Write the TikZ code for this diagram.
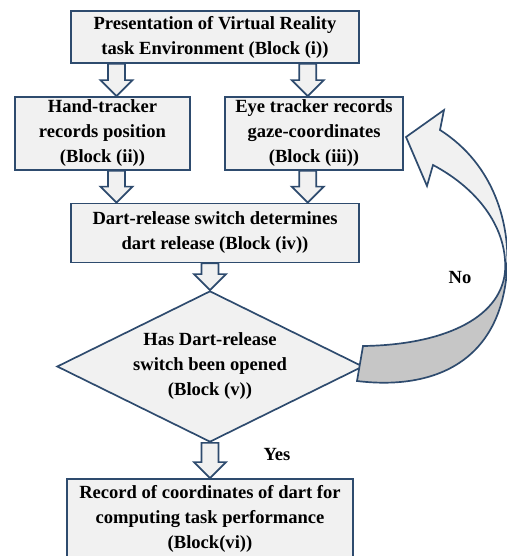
\documentclass[tikz,border=0pt]{standalone}
\usepackage{fontspec}
\setmainfont{Liberation Serif}
\usetikzlibrary{shapes,calc,positioning}
\definecolor{framecol}{HTML}{2E4B6E}
\definecolor{facecol}{HTML}{F1F1F1}
\definecolor{backcol}{HTML}{C6C6C6}

\begin{document}
\begin{tikzpicture}[
  x=0.025cm, y=-0.025cm,
  every node/.style = {font=\fontsize{13.2}{17.8}\selectfont\bfseries, align=center},
  box options/.style = {draw=framecol, fill=facecol, line width=1.2pt, inner sep=0pt},
  decision options/.style = {box options, diamond, aspect=2},
  loop front/.style = {draw=framecol, fill=facecol, line width=1.2pt, line join=miter},
  loop back/.style = {draw=framecol, fill=backcol, line width=1.2pt},
  arrow options/.style = {draw=framecol, fill=facecol, line width=1.2pt, line join=miter,
    to path={let \p1=(\tikztostart), \p2=(\tikztotarget) in
      (\x1-6pt,\y1) -- (\x1-6pt,\y2+11.4pt) -- (\x1-11.4pt,\y2+11.4pt) -- (\x1,\y2)
      -- (\x1+11.4pt,\y2+11.4pt) -- (\x1+6pt,\y2+11.4pt) -- (\x1+6pt,\y1) -- cycle}},
  ]
  \useasboundingbox (0,0) rectangle (506,556);

  \node[box options, minimum width=7.2cm, minimum height=1.3cm] (env) at (215,37)
    {Presentation of Virtual Reality\\task Environment (Block (i))};
  \node[box options, minimum width=4.375cm, minimum height=1.825cm] (hand) at (102.5,133.5)
    {Hand-tracker\\records position\\(Block (ii))};
  \node[box options, minimum width=4.45cm, minimum height=1.825cm] (eye) at (314,133.5)
    {Eye tracker records\\gaze-coordinates\\(Block (iii))};
  \node[box options, minimum width=7.2cm, minimum height=1.475cm] (release) at (215,233)
    {Dart-release switch determines\\dart release (Block (iv))};
  \node[decision options, minimum width=7.65cm, minimum height=3.775cm] (opened) at (210,366.5)
    {Has Dart-release\\switch been opened\\(Block (v))};
  \node[box options, minimum width=7.15cm, minimum height=2cm] (record) at (210,519)
    {Record of coordinates of dart for\\computing task performance\\(Block(vi))};

  % block arrows
  \coordinate (lx) at ($(env.south west)!.16!(env.south east)$);
  \coordinate (rx) at ($(env.south west)!.82!(env.south east)$);
  \draw[arrow options] (lx) to (lx |- hand.north);
  \draw[arrow options] (rx) to (rx |- eye.north);
  \draw[arrow options] (lx |- hand.south) to (lx |- release.north);
  \draw[arrow options] (rx |- eye.south) to (rx |- release.north);
  \draw[arrow options] (opened.north |- release.south) to (opened.north);
  \draw[arrow options] (opened.south) to (record.north);

  % loop back to the eye tracker
  \filldraw[loop back] (363,346) -- (357,381) .. controls (430,390) and (500,365) .. (507,270)
    -- (505,272) .. controls (500,320) and (440,345) .. cycle;
  \filldraw[loop front] (505,272) .. controls (508,230) and (480,190) .. (433,165)
    -- (427,186) -- (406,137) -- (444,110) -- (440,130)
    .. controls (495,165) and (510,225) .. (507,270) -- cycle;

  \node (no) at (460,278) {No};
  \node (yes) at (277,455) {Yes};
\end{tikzpicture}
\end{document}
